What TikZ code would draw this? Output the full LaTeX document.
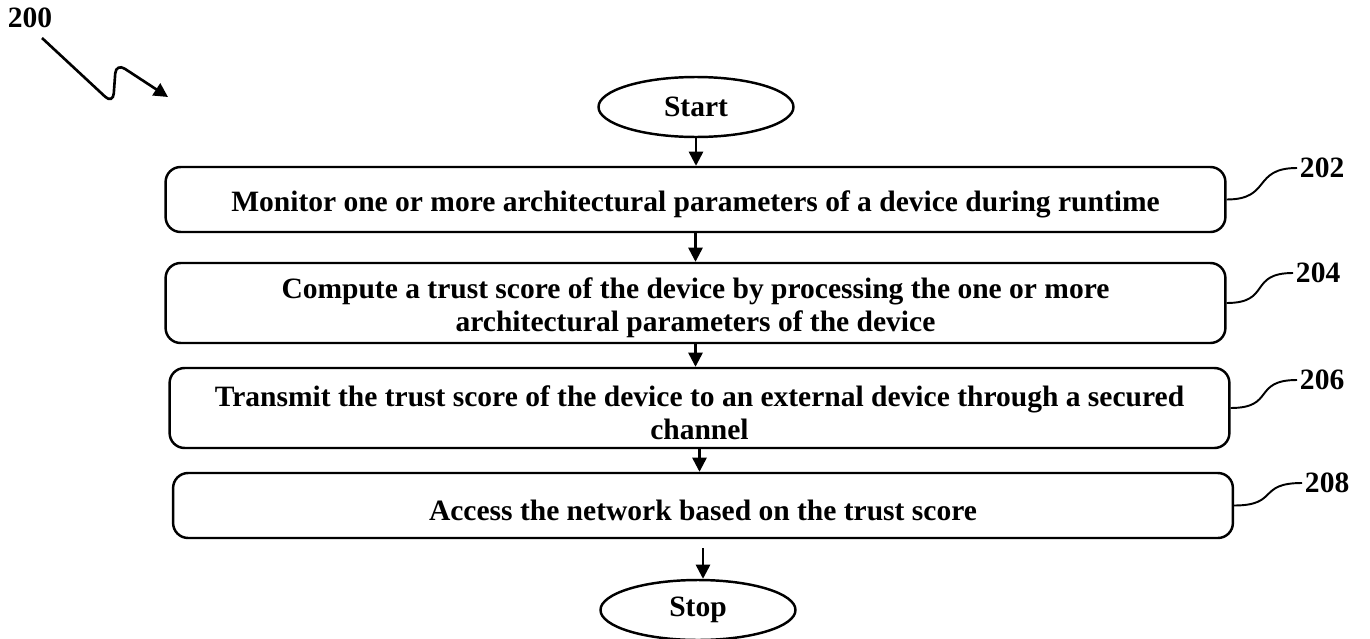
\documentclass[tikz,border=0pt]{standalone}
\usepackage{fontspec}
\setmainfont{Liberation Serif}
\usetikzlibrary{arrows.meta, positioning, shapes.geometric}
\newcommand{\topstrut}{\rule{0pt}{17.5pt}}

\begin{document}
\begin{tikzpicture}[x=0.02cm, y=-0.02cm, line width=1.4pt, >={Triangle[length=8pt,width=8pt]}, font=\fontsize{16.8}{19}\selectfont\bfseries]
    \tikzstyle{terminal}=[ellipse, draw=black, minimum width=3.9cm, minimum height=1.2cm, inner sep=0pt]
    \tikzstyle{stepbox}=[rectangle, draw=black, rounded corners=0.3cm, minimum width=21.2cm, align=center, inner sep=0pt]
    \tikzstyle{refnum}=[anchor=west, inner sep=1pt]
    \tikzstyle{flow}=[->]
    \tikzstyle{leader}=[line width=1.1pt]

    \useasboundingbox (0,0) rectangle (1370,639);

%    figure number with the wavy pointer
    \node (L-200) at (30,18) {200};
    \coordinate (s-0) at (42,38);
    \coordinate (s-1) at (168,97);
    \draw[->, rounded corners=6pt, line width=1.5pt] (s-0) -- (113,104) -- (116,63) -- (s-1);

    \node[terminal] (start) at (696,107) {Start};

    \node[stepbox, minimum height=1.3cm] (B-1) at (695.5,199.5) {\topstrut Monitor one or more architectural parameters of a device during runtime};
    \node[stepbox, minimum height=1.6cm] (B-2) at (695.5,303) {\topstrut Compute a trust score of the device by processing the one or more\\ architectural parameters of the device};
    \node[stepbox, minimum height=1.6cm] (B-3) at (699.5,408) {\topstrut Transmit the trust score of the device to an external device through a secured\\ channel};
    \node[stepbox, minimum height=1.3cm] (B-4) at (703,505.5) {\topstrut Access the network based on the trust score};

    \node[terminal] (stop) at (698,610) {Stop};

    \node[refnum] (L-202) at (1297,168) {202};
    \node[refnum] (L-204) at (1293,273) {204};
    \node[refnum] (L-206) at (1297,380) {206};
    \node[refnum] (L-208) at (1302,483) {208};

	\draw[flow] (start.south) -- (start.south |- B-1.north);
	\foreach \a/\b in {B-1/B-2, B-2/B-3, B-3/B-4}{
		\draw[flow] (\a.south) -- (\a.south |- \b.north);
	}
	\draw[flow, shorten <=5pt] (B-4.south) -- (B-4.south |- stop.north);

	\foreach \n/\l in {1/202, 2/204, 3/206, 4/208}{
		\draw[leader] (B-\n.east) .. controls +(45,0) and +(-45,0) .. (L-\l.west);
	}
\end{tikzpicture}
\end{document}
